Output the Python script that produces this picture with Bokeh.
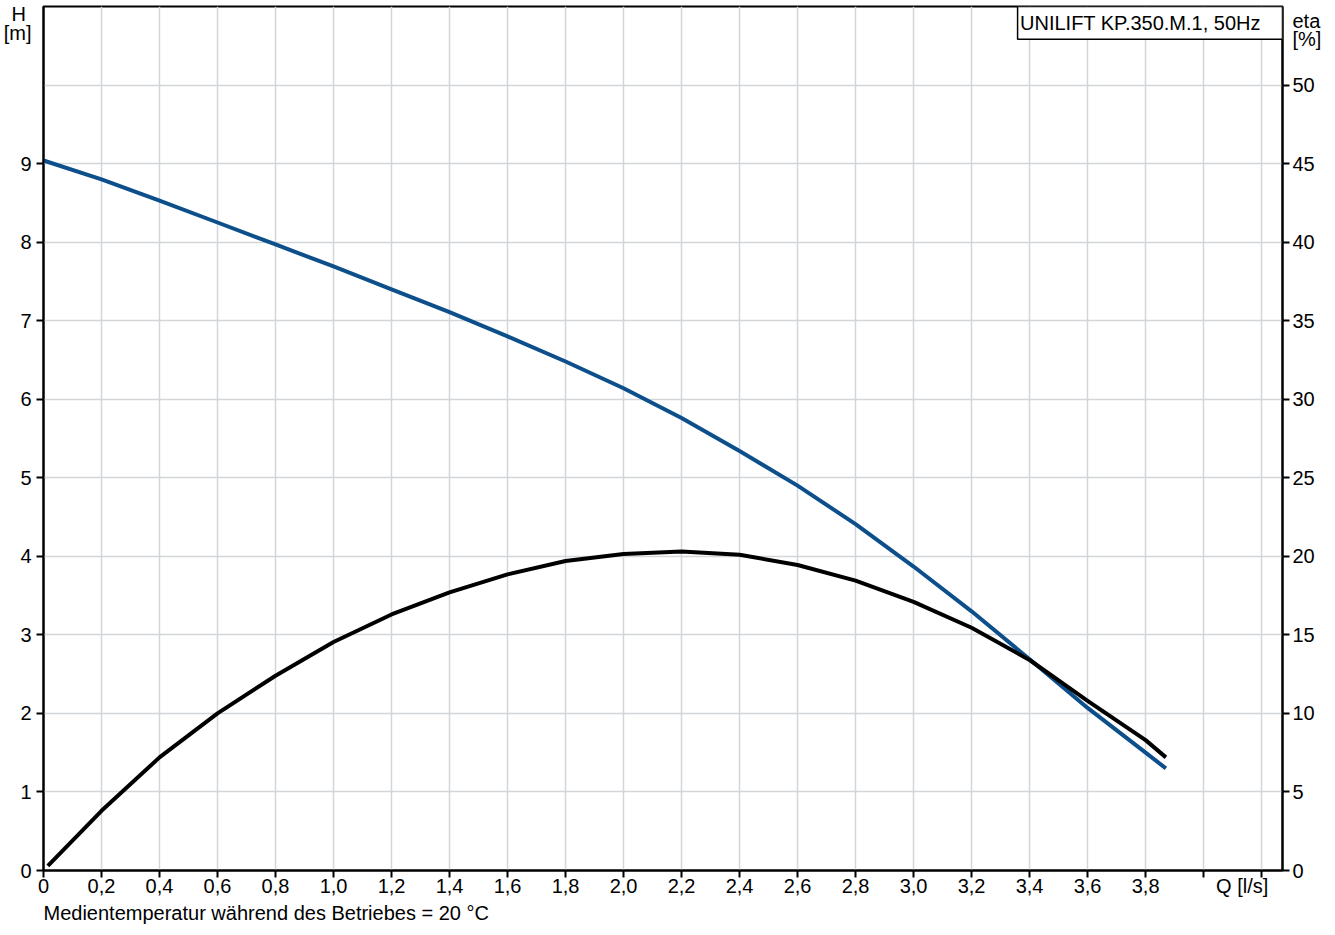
from bokeh.plotting import figure
from bokeh.models import Range1d, LinearAxis, FixedTicker, Label, BoxAnnotation, Title
from bokeh.embed import file_html
from bokeh.resources import INLINE

# ---- data ----
q_head = [0.0, 0.2, 0.4, 0.6, 0.8, 1.0, 1.2, 1.4, 1.6, 1.8, 2.0,
          2.2, 2.4, 2.6, 2.8, 3.0, 3.2, 3.4, 3.6, 3.8, 3.87]
head_m = [9.04, 8.80, 8.53, 8.25, 7.97, 7.69, 7.40, 7.11, 6.80, 6.48, 6.14,
          5.76, 5.34, 4.90, 4.41, 3.87, 3.30, 2.69, 2.07, 1.50, 1.30]

q_eta = [0.015, 0.2, 0.4, 0.6, 0.8, 1.0, 1.2, 1.4, 1.6, 1.8, 2.0,
         2.2, 2.4, 2.6, 2.8, 3.0, 3.2, 3.4, 3.6, 3.8, 3.87]
eta_pct = [0.3, 3.8, 7.2, 10.0, 12.4, 14.55, 16.3, 17.7, 18.85, 19.7, 20.15,
           20.3, 20.1, 19.45, 18.45, 17.1, 15.45, 13.4, 10.8, 8.3, 7.2]

x_ticks = [0.0, 0.2, 0.4, 0.6, 0.8, 1.0, 1.2, 1.4, 1.6, 1.8, 2.0,
           2.2, 2.4, 2.6, 2.8, 3.0, 3.2, 3.4, 3.6, 3.8, 4.0, 4.2]
x_tick_labels = ["0", "0,2", "0,4", "0,6", "0,8", "1,0", "1,2", "1,4", "1,6", "1,8", "2,0",
                 "2,2", "2,4", "2,6", "2,8", "3,0", "3,2", "3,4", "3,6", "3,8", "",
                 "Q [l/s]" + "\u00a0" * 7]
h_ticks = [0, 1, 2, 3, 4, 5, 6, 7, 8, 9]
h_grid = [0, 1, 2, 3, 4, 5, 6, 7, 8, 9, 10]
eta_ticks = [0, 5, 10, 15, 20, 25, 30, 35, 40, 45, 50]

h_title_pos = [10.9, 10.66]
h_title_lines = ["H\u00a0", "[m]"]
eta_title_pos = [54.1, 52.95]
eta_title_lines = ["eta", "[%]"]

title_text = "UNILIFT KP.350.M.1, 50Hz"
footer_text = "Medientemperatur während des Betriebes = 20 °C"

X_MAX = 4.272
H_MAX = 11.0
ETA_MAX = 55.0

FONT = "Liberation Sans"
FS = "20px"
BLUE = "#0d4f8b"
GRID = "#d3d6d9"

p = figure(width=1330, height=924, output_backend="svg", toolbar_location=None,
           x_range=Range1d(0, X_MAX), y_range=Range1d(0, H_MAX),
           min_border_left=43, min_border_right=48, min_border_top=6,
           min_border_bottom=50, title_location=None)
p.background_fill_color = "white"
p.border_fill_color = "white"
p.outline_line_color = "black"
p.outline_line_width = 2

p.extra_y_ranges = {"eta": Range1d(0, ETA_MAX)}

# inner axes: lines + tick marks only
xa = p.xaxis[0]
ya = p.yaxis[0]
ra = LinearAxis(y_range_name="eta")
p.add_layout(ra, "right")

xa.ticker = FixedTicker(ticks=x_ticks)
xa.major_label_overrides = {t: lab for t, lab in zip(x_ticks, x_tick_labels)}
ya.ticker = FixedTicker(ticks=h_ticks)
ya.major_label_overrides = {t: "" for t in h_ticks}
ra.ticker = FixedTicker(ticks=eta_ticks)
ra.major_label_overrides = {t: "" for t in eta_ticks}

for ax in (xa, ya, ra):
    ax.axis_line_color = "black"
    ax.axis_line_width = 2
    ax.major_tick_line_color = "black"
    ax.major_tick_line_width = 2
    ax.major_tick_in = 0
    ax.major_tick_out = 7
    ax.minor_tick_line_color = None
    ax.major_label_text_font = FONT
    ax.major_label_text_font_size = FS
    ax.major_label_text_color = "black"
xa.major_label_standoff = -3
ya.major_label_standoff = 0
ra.major_label_standoff = 0

# outer axes: labels only (numbers + unit titles)
ly = LinearAxis(ticker=FixedTicker(ticks=h_ticks + h_title_pos))
ly.major_label_overrides = {t: lab for t, lab in zip(h_title_pos, h_title_lines)}
ry = LinearAxis(y_range_name="eta", ticker=FixedTicker(ticks=eta_ticks + eta_title_pos))
ry.major_label_overrides = {t: lab for t, lab in zip(eta_title_pos, eta_title_lines)}
for ax, side in ((ly, "left"), (ry, "right")):
    ax.axis_line_color = None
    ax.major_tick_line_color = None
    ax.major_tick_in = 0
    ax.major_tick_out = 0
    ax.minor_tick_line_color = None
    ax.major_label_text_font = FONT
    ax.major_label_text_font_size = FS
    ax.major_label_text_color = "black"
    p.add_layout(ax, side)
ly.major_label_standoff = 5
ry.major_label_standoff = 3

p.xgrid.ticker = FixedTicker(ticks=x_ticks)
p.ygrid.ticker = FixedTicker(ticks=h_grid)
for g in (p.xgrid[0], p.ygrid[0]):
    g.grid_line_color = GRID
    g.grid_line_width = 1.5

p.line(q_head, head_m, line_color=BLUE, line_width=4, line_join="round", line_cap="butt")
p.line(q_eta, eta_pct, y_range_name="eta", line_color="black", line_width=4,
       line_join="round", line_cap="butt")

# title box in the top right corner
p.add_layout(BoxAnnotation(left=3.3586, right=X_MAX, top=H_MAX, bottom=10.582,
                           fill_color="white", fill_alpha=1.0,
                           line_color="black", line_width=1.5, line_alpha=1.0))
p.add_layout(Label(x=3.367, y=10.791, text=title_text, text_align="left",
                   text_baseline="middle", text_font=FONT, text_font_size=FS,
                   text_color="black"))

p.add_layout(Title(text=footer_text, align="left", text_font=FONT,
                   text_font_size=FS, text_font_style="normal", text_color="black",
                   standoff=1, offset=0), "below")

open("out.html", "w").write(file_html(p, INLINE))
